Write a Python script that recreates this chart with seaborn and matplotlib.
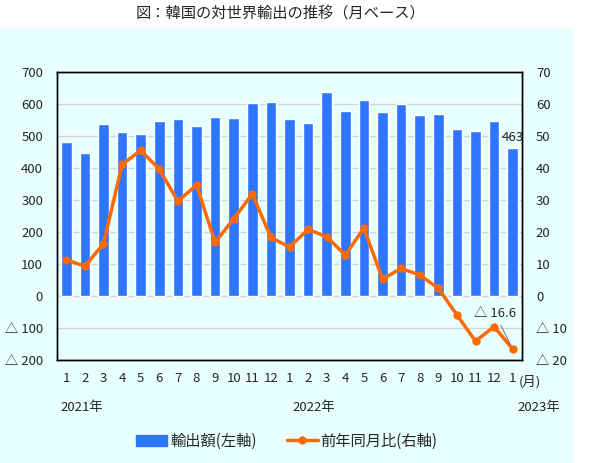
import numpy as np
import matplotlib.pyplot as plt
import seaborn as sns
import pandas as pd
from matplotlib.patches import Rectangle, Patch
from matplotlib.lines import Line2D

sns.set_style("white")
plt.rcParams['font.family'] = ['Noto Sans CJK JP', 'DejaVu Sans']

# data (exports: 100 million USD, yoy: %)
months = [1, 2, 3, 4, 5, 6, 7, 8, 9, 10, 11, 12,
          1, 2, 3, 4, 5, 6, 7, 8, 9, 10, 11, 12, 1]
exports = [480, 446, 536, 511, 507, 548, 554, 532, 558, 557, 603, 607,
           553, 541, 637, 578, 613, 576, 601, 566, 570, 523, 517, 548, 463]
yoy = [11.3, 9.3, 16.3, 41.1, 45.5, 39.6, 29.6, 34.7, 16.8, 24.1, 31.9, 18.3,
       15.3, 20.8, 18.5, 12.8, 21.2, 5.3, 8.6, 6.6, 2.4, -5.9, -14.1, -9.6, -16.6]
year_labels = ["2021年", "2022年", "2023年"]
bar_name = "輸出額(左軸)"
line_name = "前年同月比(右軸)"
title = "図：韓国の対世界輸出の推移（月ベース）"

bg = "#E8FFFF"
bar_c = "#2E75FF"
line_c = "#FF6A00"

df = pd.DataFrame({"pos": range(len(months)), "month": months,
                   "exports": exports, "yoy": yoy})

W, H = 593, 463
fig = plt.figure(figsize=(W / 100, H / 100), dpi=100)
fig.patch.set_facecolor("white")
fig.patches.append(Rectangle((0, 0), 573 / W, 435 / H, transform=fig.transFigure,
                             facecolor=bg, edgecolor="none", zorder=-10))

ax = fig.add_axes([57 / W, 1 - 360 / H, 465 / W, 288 / H])
ax.set_facecolor(bg)
sns.barplot(data=df, x="pos", y="exports", color=bar_c, width=0.57,
            saturation=1, ax=ax)
ax.set_ylim(-200, 700)
ax.set_yticks(range(-200, 701, 100))
ax.yaxis.grid(True, color="#D4D4D4", lw=1)
ax.set_axisbelow(True)
fmt = lambda v: f"△ {int(-v)}" if v < 0 else f"{int(v)}"
ax.set_yticklabels([fmt(v) for v in range(-200, 701, 100)])
ax.set_xticks(range(len(months)))
ax.set_xticklabels([str(m) for m in months])
ax.tick_params(axis="y", length=0, pad=10, labelsize=9.5)
ax.tick_params(axis="x", length=0, pad=9, labelsize=9.5)
ax.set_xlabel("")
ax.set_ylabel("")

ax2 = ax.twinx()
sns.lineplot(data=df, x="pos", y="yoy", color=line_c, lw=2.5, marker="o",
             markersize=6, markeredgewidth=0, ax=ax2)
ax2.set_ylim(-20, 70)
ax2.set_yticks(range(-20, 71, 10))
ax2.set_yticklabels([fmt(v) for v in range(-20, 71, 10)])
ax2.tick_params(axis="y", length=0, pad=10, labelsize=9.5)
ax2.set_ylabel("")
ax.set_xlim(-0.5, len(months) - 0.5)

for a in (ax, ax2):
    for s in a.spines.values():
        s.set_color("black")
        s.set_linewidth(1)

# annotations
ax.annotate(str(exports[-1]), xy=(len(months) - 1, exports[-1]),
            xytext=(0, 3), textcoords="offset points",
            ha="center", va="bottom", fontsize=9.5)
ax2.annotate(f"△ {abs(yoy[-1])}", xy=(len(months) - 1, yoy[-1]),
             xytext=(-13, 26), textcoords="offset points",
             ha="center", va="center", fontsize=9.5,
             arrowprops=dict(arrowstyle="-", color="gray", lw=0.8,
                             shrinkA=2, shrinkB=3))

fig.text(519 / W, 1 - 382 / H, "(月)", ha="left", va="center", fontsize=9.5)
for lbl, xp in zip(year_labels, [60, 292, 517]):
    fig.text(xp / W, 1 - 408 / H, lbl, ha="left", va="center", fontsize=9.5)

fig.text(281 / W, 1 - 13 / H, title, ha="center", va="center", fontsize=11)

handles = [Patch(color=bar_c),
           Line2D([], [], color=line_c, lw=2.5, marker="o", markersize=5)]
fig.legend(handles, [bar_name, line_name], loc="center",
           bbox_to_anchor=(287 / W, 1 - 441 / H), ncol=2, frameon=False,
           fontsize=11, handlelength=2.0, handletextpad=0.2, columnspacing=2.0)

fig.savefig("out.png", dpi=100)
